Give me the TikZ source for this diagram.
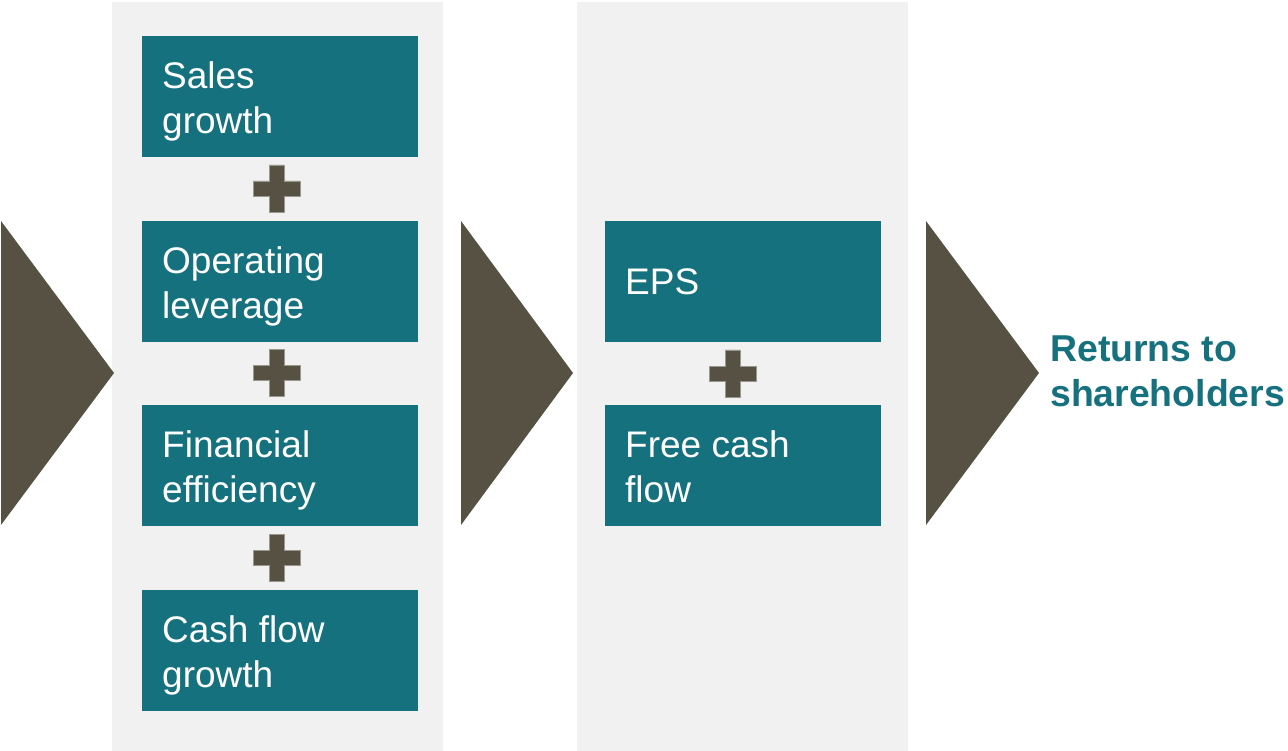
\documentclass[tikz,border=0pt]{standalone}
\usepackage{fontspec}
\setmainfont{Liberation Sans}
\usetikzlibrary{calc}
\definecolor{teal}{HTML}{16717E}
\definecolor{panelgray}{HTML}{F1F1F1}
\definecolor{arrowbrown}{HTML}{575143}
\tikzset{
  panel/.style={fill=panelgray, draw=none},
  boxnode/.style={fill=teal, draw=none, inner sep=0pt, minimum width=276pt, minimum height=121pt, anchor=north west},
  boxtext/.style={text=white, inner sep=0pt, anchor=north west, align=left, font=\fontsize{37}{45}\selectfont},
  chevron/.style={fill=arrowbrown, draw=none},
  plusfill/.style={fill=arrowbrown, draw=arrowbrown!60!white, line width=0.6pt},
  result/.style={text=teal, inner sep=0pt, anchor=north west, align=left, font=\bfseries\fontsize{37.4}{45}\selectfont}
}
% plus sign centred at #1
\newcommand{\plussign}[1]{%
  \path[plusfill] ($#1+(-7.5,-23.5)$) -- ++(15,0) -- ++(0,16) -- ++(16,0) -- ++(0,15)
    -- ++(-16,0) -- ++(0,16) -- ++(-15,0) -- ++(0,-16) -- ++(-16,0) -- ++(0,-15)
    -- ++(16,0) -- cycle;}
\begin{document}
\begin{tikzpicture}[x=1pt, y=-1pt]
\useasboundingbox (0,0) rectangle (1288,751);

% background panels
\fill[panel] (112,2) rectangle (443,751);
\fill[panel] (577,2) rectangle (908,751);

% chevrons
\fill[chevron] (1,221) -- (114,373) -- (1,525) -- cycle;
\fill[chevron] (461,221) -- (573,373) -- (461,525) -- cycle;
\fill[chevron] (926,221) -- (1039,373) -- (926,525) -- cycle;

% first column: drivers
\node[boxnode] (sales) at (142,36) {};
\node[boxnode] (oplev) at (142,220.5) {};
\node[boxnode] (fineff) at (142,405) {};
\node[boxnode] (cfg) at (142,589.5) {};
\node[boxtext] (salesT) at ($(sales.north west)+(20,25.5)$) {Sales\\growth};
\node[boxtext] (oplevT) at ($(oplev.north west)+(20,25.5)$) {Operating\\leverage};
\node[boxtext] (fineffT) at ($(fineff.north west)+(20,25.5)$) {Financial\\efficiency};
\node[boxtext] (cfgT) at ($(cfg.north west)+(20,25.5)$) {Cash flow\\growth};

\plussign{(276.5,188.5)}
\plussign{(276.5,373)}
\plussign{(276.5,558)}

% second column: outcomes
\node[boxnode] (eps) at (605,220.5) {};
\node[boxnode] (fcf) at (605,405) {};
\node[boxtext] (epsT) at ($(eps.north west)+(20,48)$) {EPS};
\node[boxtext] (fcfT) at ($(fcf.north west)+(20,25.5)$) {Free cash\\flow};

\plussign{(733,373.5)}

% result
\node[result] (returns) at (1050,335.5) {Returns to\\shareholders};
\end{tikzpicture}
\end{document}
